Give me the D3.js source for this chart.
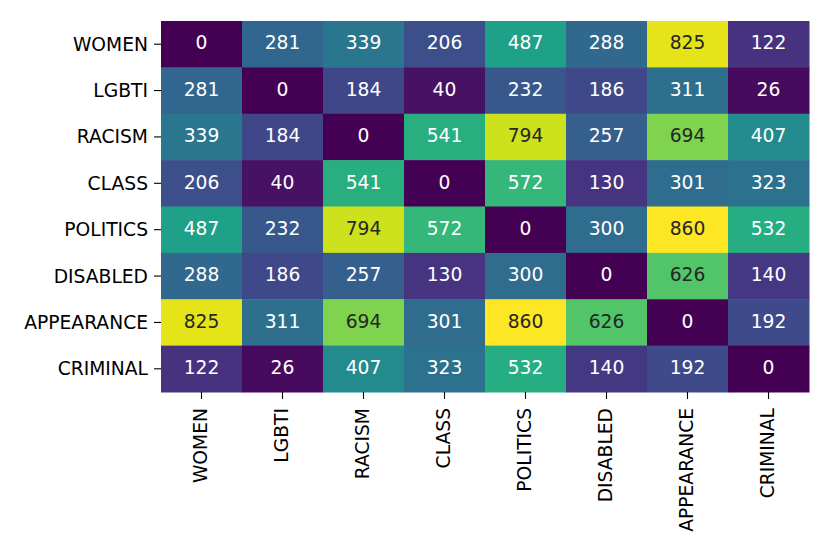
<!DOCTYPE html>
<html>
<head>
<meta charset="utf-8">
<script src="https://cdn.jsdelivr.net/npm/d3@7"></script>
<style>
  body { margin: 0; background: #fff; }
  svg text { font-family: "DejaVu Sans", sans-serif; }
</style>
</head>
<body>
<svg width="830" height="554"></svg>
<script>
// categories (rows and columns are the same)
var categories = ["WOMEN", "LGBTI", "RACISM", "CLASS", "POLITICS", "DISABLED", "APPEARANCE", "CRIMINAL"];

// co-occurrence counts, one row per category
var women      = [0, 281, 339, 206, 487, 288, 825, 122];
var lgbti      = [281, 0, 184, 40, 232, 186, 311, 26];
var racism     = [339, 184, 0, 541, 794, 257, 694, 407];
var classRow   = [206, 40, 541, 0, 572, 130, 301, 323];
var politics   = [487, 232, 794, 572, 0, 300, 860, 532];
var disabled   = [288, 186, 257, 130, 300, 0, 626, 140];
var appearance = [825, 311, 694, 301, 860, 626, 0, 192];
var criminal   = [122, 26, 407, 323, 532, 140, 192, 0];

var rows = [women, lgbti, racism, classRow, politics, disabled, appearance, criminal];

var margin = { top: 21, right: 21, bottom: 162, left: 161 };
var width = 830 - margin.left - margin.right;
var height = 554 - margin.top - margin.bottom;
var fontSize = "18.7px";

var svg = d3.select("svg")
    .append("g")
    .attr("transform", "translate(" + margin.left + "," + margin.top + ")");

var xScale = d3.scaleBand().domain(categories).range([0, width]);
var yScale = d3.scaleBand().domain(categories).range([0, height]);

var vmax = d3.max(rows, function(r) { return d3.max(r); });
var color = d3.scaleSequential(d3.interpolateViridis).domain([0, vmax]);

// flatten to cells
var cells = [];
rows.forEach(function(r, i) {
    r.forEach(function(v, j) {
        cells.push({ row: categories[i], col: categories[j], value: v });
    });
});

// same rule seaborn uses to pick annotation colour
function luminance(c) {
    var rgb = d3.rgb(c);
    var ch = [rgb.r, rgb.g, rgb.b].map(function(x) {
        x = x / 255;
        return x <= 0.03928 ? x / 12.92 : Math.pow((x + 0.055) / 1.055, 2.4);
    });
    return 0.2126 * ch[0] + 0.7152 * ch[1] + 0.0722 * ch[2];
}

svg.selectAll("rect.cell")
    .data(cells)
    .enter().append("rect")
    .attr("class", "cell")
    .attr("x", function(d) { return xScale(d.col); })
    .attr("y", function(d) { return yScale(d.row); })
    .attr("width", xScale.bandwidth() + 0.5)
    .attr("height", yScale.bandwidth() + 0.5)
    .attr("fill", function(d) { return color(d.value); });

svg.selectAll("text.annot")
    .data(cells)
    .enter().append("text")
    .attr("class", "annot")
    .attr("x", function(d) { return xScale(d.col) + xScale.bandwidth() / 2; })
    .attr("y", function(d) { return yScale(d.row) + yScale.bandwidth() / 2; })
    .attr("dy", "0.28em")
    .attr("text-anchor", "middle")
    .attr("font-size", fontSize)
    .attr("fill", function(d) { return luminance(color(d.value)) > 0.408 ? "#262626" : "#ffffff"; })
    .text(function(d) { return d.value; });

// axes
var yAxis = d3.axisLeft(yScale).tickSize(7).tickPadding(6);
var xAxis = d3.axisBottom(xScale).tickSize(7).tickPadding(5);

var gy = svg.append("g").attr("class", "axis axis--y").call(yAxis);
gy.select(".domain").remove();
gy.selectAll("text").attr("font-size", fontSize).attr("fill", "#000").attr("dy", "0.35em");
gy.selectAll("line").attr("stroke", "#000").attr("stroke-width", 1.1);

var gx = svg.append("g")
    .attr("class", "axis axis--x")
    .attr("transform", "translate(0," + height + ")")
    .call(xAxis);
gx.select(".domain").remove();
gx.selectAll("line").attr("stroke", "#000").attr("stroke-width", 1.1);
gx.selectAll("text")
    .attr("font-size", fontSize)
    .attr("fill", "#000")
    .attr("text-anchor", "end")
    .attr("dy", "0.32em")
    .attr("transform", "translate(0,16) rotate(-90)")
    .attr("x", 0)
    .attr("y", 0);
</script>
</body>
</html>
